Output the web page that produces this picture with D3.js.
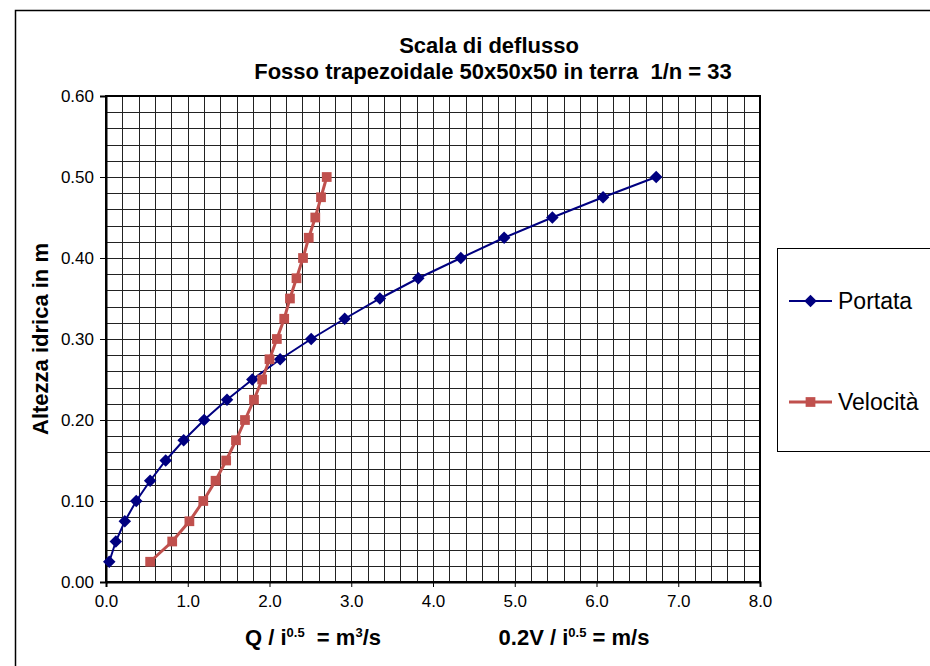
<!DOCTYPE html>
<html lang="it">
<head>
<meta charset="UTF-8">
<title>Scala di deflusso</title>
<script src="https://d3js.org/d3.v7.min.js"></script>
<style>
  body { margin: 0; background: #fff; }
  svg text { font-family: "Liberation Sans", Arial, sans-serif; }
</style>
</head>
<body>
<div id="chart"></div>
<script>
// altezze idriche (m) - comuni alle due serie
const altezze = [0.025, 0.05, 0.075, 0.10, 0.125, 0.15, 0.175, 0.20, 0.225, 0.25,
                 0.275, 0.30, 0.325, 0.35, 0.375, 0.40, 0.425, 0.45, 0.475, 0.50];
// Q / i^0.5
const portata = [0.04, 0.12, 0.23, 0.37, 0.54, 0.73, 0.95, 1.20, 1.48, 1.79,
                 2.13, 2.51, 2.92, 3.35, 3.82, 4.34, 4.87, 5.46, 6.08, 6.73];
// 0.2V / i^0.5
const velocita = [0.54, 0.81, 1.02, 1.19, 1.34, 1.47, 1.59, 1.70, 1.81, 1.91,
                  2.00, 2.09, 2.18, 2.25, 2.33, 2.41, 2.48, 2.56, 2.63, 2.70];

const xTicks = [0, 1, 2, 3, 4, 5, 6, 7, 8];
const yTicks = [0, 0.1, 0.2, 0.3, 0.4, 0.5, 0.6];
const xGrid = d3.range(0, 41).map(i => i * 0.2);
const yGrid = d3.range(0, 31).map(i => i * 0.02);

const width = 930, height = 666;
const plotLeft = 106, plotRight = 760, plotTop = 96, plotBottom = 582;

const svg = d3.select("#chart").append("svg")
    .attr("width", width)
    .attr("height", height);

// cornice esterna
svg.append("rect")
    .attr("x", 15.5).attr("y", 10.5)
    .attr("width", 960).attr("height", 700)
    .attr("fill", "#fff")
    .attr("stroke", "#000")
    .attr("stroke-width", 1.5);

const x = d3.scaleLinear().domain([0, 8]).range([plotLeft, plotRight]);
const y = d3.scaleLinear().domain([0, 0.6]).range([plotBottom, plotTop]);

// griglia
svg.append("g")
    .selectAll("line")
    .data(xGrid)
    .join("line")
    .attr("x1", d => Math.round(x(d)) + 0.5).attr("x2", d => Math.round(x(d)) + 0.5)
    .attr("y1", plotTop).attr("y2", plotBottom)
    .attr("stroke", "#222").attr("stroke-width", 1);

svg.append("g")
    .selectAll("line")
    .data(yGrid)
    .join("line")
    .attr("y1", d => Math.round(y(d)) + 0.5).attr("y2", d => Math.round(y(d)) + 0.5)
    .attr("x1", plotLeft).attr("x2", plotRight)
    .attr("stroke", "#222").attr("stroke-width", 1);

// bordo area grafico
svg.append("rect")
    .attr("x", plotLeft).attr("y", plotTop)
    .attr("width", plotRight - plotLeft).attr("height", plotBottom - plotTop)
    .attr("fill", "none")
    .attr("stroke", "#000")
    .attr("stroke-width", 2);

// assi
const yAxis = svg.append("g")
    .attr("transform", `translate(${plotLeft},0)`)
    .call(d3.axisLeft(y).tickValues(yTicks).tickFormat(d3.format(".2f")).tickSize(6).tickPadding(6));
const xAxis = svg.append("g")
    .attr("transform", `translate(0,${plotBottom})`)
    .call(d3.axisBottom(x).tickValues(xTicks).tickFormat(d3.format(".1f")).tickSize(5).tickPadding(8));

[xAxis, yAxis].forEach(a => {
  a.select(".domain").attr("stroke", "#000").attr("stroke-width", 2);
  a.selectAll(".tick line").attr("stroke", "#000");
  a.selectAll(".tick text")
      .attr("fill", "#000")
      .style("font-size", "17px")
      .style("font-family", "'Liberation Sans', Arial, sans-serif");
});

// serie
const portataData = altezze.map((h, i) => ({ x: portata[i], y: h }));
const velocitaData = altezze.map((h, i) => ({ x: velocita[i], y: h }));

const line = d3.line().x(d => x(d.x)).y(d => y(d.y));

svg.append("path")
    .datum(portataData)
    .attr("d", line)
    .attr("fill", "none")
    .attr("stroke", "#000080")
    .attr("stroke-width", 2);

svg.append("path")
    .datum(velocitaData)
    .attr("d", line)
    .attr("fill", "none")
    .attr("stroke", "#C0504D")
    .attr("stroke-width", 3);

const diamond = d3.symbol().type(d3.symbolDiamond2).size(100);
const square = d3.symbol().type(d3.symbolSquare).size(95);

svg.append("g")
    .selectAll("path")
    .data(portataData)
    .join("path")
    .attr("transform", d => `translate(${x(d.x)},${y(d.y)})`)
    .attr("d", diamond)
    .attr("fill", "#000080");

svg.append("g")
    .selectAll("path")
    .data(velocitaData)
    .join("path")
    .attr("transform", d => `translate(${x(d.x)},${y(d.y)})`)
    .attr("d", square)
    .attr("fill", "#C0504D");

// titoli
svg.append("text")
    .attr("x", 489).attr("y", 53)
    .attr("text-anchor", "middle")
    .attr("font-size", 22).attr("font-weight", "bold")
    .text("Scala di deflusso");
svg.append("text")
    .attr("x", 493).attr("y", 79)
    .attr("text-anchor", "middle")
    .attr("font-size", 22).attr("font-weight", "bold")
    .attr("xml:space", "preserve")
    .text("Fosso trapezoidale 50x50x50 in terra  1/n = 33");

svg.append("text")
    .attr("transform", "translate(48,339) rotate(-90)")
    .attr("text-anchor", "middle")
    .attr("font-size", 22).attr("font-weight", "bold")
    .text("Altezza idrica in m");

// etichette asse x con apici
function labelSup(xPos, parts) {
  const t = svg.append("text")
      .attr("x", xPos).attr("y", 645)
      .attr("text-anchor", "middle")
      .attr("font-size", 22).attr("font-weight", "bold")
      .attr("xml:space", "preserve");
  let shift = 0;
  parts.forEach(p => {
    if (p.sup) {
      t.append("tspan").attr("font-size", 13).attr("dy", -8).text(p.sup);
      shift = 8;
    } else {
      t.append("tspan").attr("dy", shift).text(p.t);
      shift = 0;
    }
  });
}
labelSup(313, [{ t: "Q / i" }, { sup: "0.5" }, { t: "  = m" }, { sup: "3" }, { t: "/s" }]);
labelSup(574, [{ t: "0.2V / i" }, { sup: "0.5" }, { t: " = m/s" }]);

// legenda
const legend = svg.append("g");
legend.append("rect")
    .attr("x", 777.5).attr("y", 248.5)
    .attr("width", 200).attr("height", 203)
    .attr("fill", "#fff")
    .attr("stroke", "#000").attr("stroke-width", 1);

const legendItems = [
  { name: "Portata", color: "#000080", sym: diamond, w: 2, y: 301 },
  { name: "Velocità", color: "#C0504D", sym: square, w: 3, y: 402 }
];
legendItems.forEach(it => {
  legend.append("line")
      .attr("x1", 789).attr("x2", 832)
      .attr("y1", it.y).attr("y2", it.y)
      .attr("stroke", it.color).attr("stroke-width", it.w);
  legend.append("path")
      .attr("transform", `translate(810.5,${it.y})`)
      .attr("d", it.sym)
      .attr("fill", it.color);
  legend.append("text")
      .attr("x", 838).attr("y", it.y + 8)
      .attr("font-size", 23)
      .text(it.name);
});
</script>
</body>
</html>
